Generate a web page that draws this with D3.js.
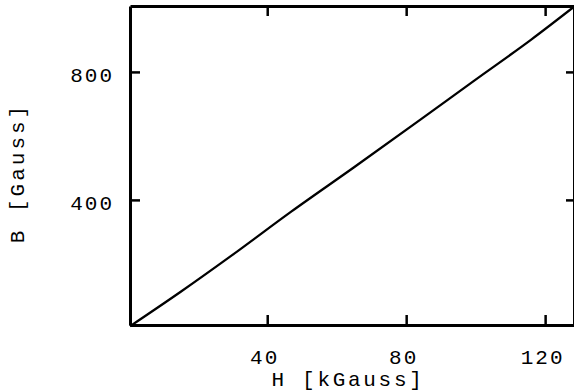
<!DOCTYPE html>
<html>
<head>
<meta charset="utf-8">
<script src="https://cdn.jsdelivr.net/npm/d3@7"></script>
<style>
  body { margin: 0; background: #fff; }
  text { font-family: "Liberation Mono", "DejaVu Sans Mono", monospace; fill: #000; }
</style>
</head>
<body>
<script>
// H [kGauss] vs B [Gauss]
const hValues = [0.5, 15, 30, 47, 65, 84, 100, 116, 128.6];
const bValues = [5, 112, 228, 364, 502, 650, 776, 901, 1006];
const xTicks = [40, 80, 120];
const yTicks = [400, 800];

const width = 574, height = 392;
const plotLeft = 130, plotRight = 575, plotTop = 6, plotBottom = 325;

const svg = d3.select("body")
    .append("svg")
    .attr("width", width)
    .attr("height", height);

const x = d3.scaleLinear()
    .domain([0.5, 128.6])
    .range([plotLeft, plotRight]);

const y = d3.scaleLinear()
    .domain([9, 1006])
    .range([plotBottom, plotTop]);

const fontSize = 21;

// bottom axis with labels
const gx = svg.append("g")
    .attr("transform", `translate(0,${plotBottom})`)
    .call(d3.axisBottom(x).tickValues(xTicks).tickSize(-10).tickSizeOuter(0).tickFormat(d3.format("d")));
gx.selectAll("text")
    .attr("y", 39).attr("dy", 0).attr("x", -3)
    .style("font-size", fontSize + "px")
    .style("letter-spacing", "2px");

// top axis, ticks only
svg.append("g")
    .attr("transform", `translate(0,${plotTop})`)
    .call(d3.axisTop(x).tickValues(xTicks).tickSize(-10).tickSizeOuter(0).tickFormat(""));

// left axis with labels
const gy = svg.append("g")
    .attr("transform", `translate(${plotLeft},0)`)
    .call(d3.axisLeft(y).tickValues(yTicks).tickSize(-10).tickSizeOuter(0).tickFormat(d3.format("d")));
gy.selectAll("text")
    .attr("x", -16).attr("dy", "0.45em")
    .style("font-size", fontSize + "px")
    .style("letter-spacing", "2px");

// right axis, ticks only
svg.append("g")
    .attr("transform", `translate(${plotRight - 1},0)`)
    .call(d3.axisRight(y).tickValues(yTicks).tickSize(-8).tickSizeOuter(0).tickFormat(""));

svg.selectAll(".domain").attr("stroke", "#000").attr("stroke-width", 3);
svg.selectAll(".tick line").attr("stroke", "#000").attr("stroke-width", 2.5);

// the curve
const line = d3.line()
    .x((d, i) => x(hValues[i]))
    .y(d => y(d))
    .curve(d3.curveMonotoneX);

svg.append("path")
    .datum(bValues)
    .attr("fill", "none")
    .attr("stroke", "#000")
    .attr("stroke-width", 2.3)
    .attr("d", line);

// axis titles
svg.append("text")
    .attr("x", 348).attr("y", 386)
    .attr("text-anchor", "middle")
    .style("font-size", fontSize + "px")
    .style("letter-spacing", "2.7px")
    .text("H [kGauss]");

svg.append("text")
    .attr("transform", "translate(24,173) rotate(-90)")
    .attr("text-anchor", "middle")
    .style("font-size", fontSize + "px")
    .style("letter-spacing", "3px")
    .text("B [Gauss]");
</script>
</body>
</html>
